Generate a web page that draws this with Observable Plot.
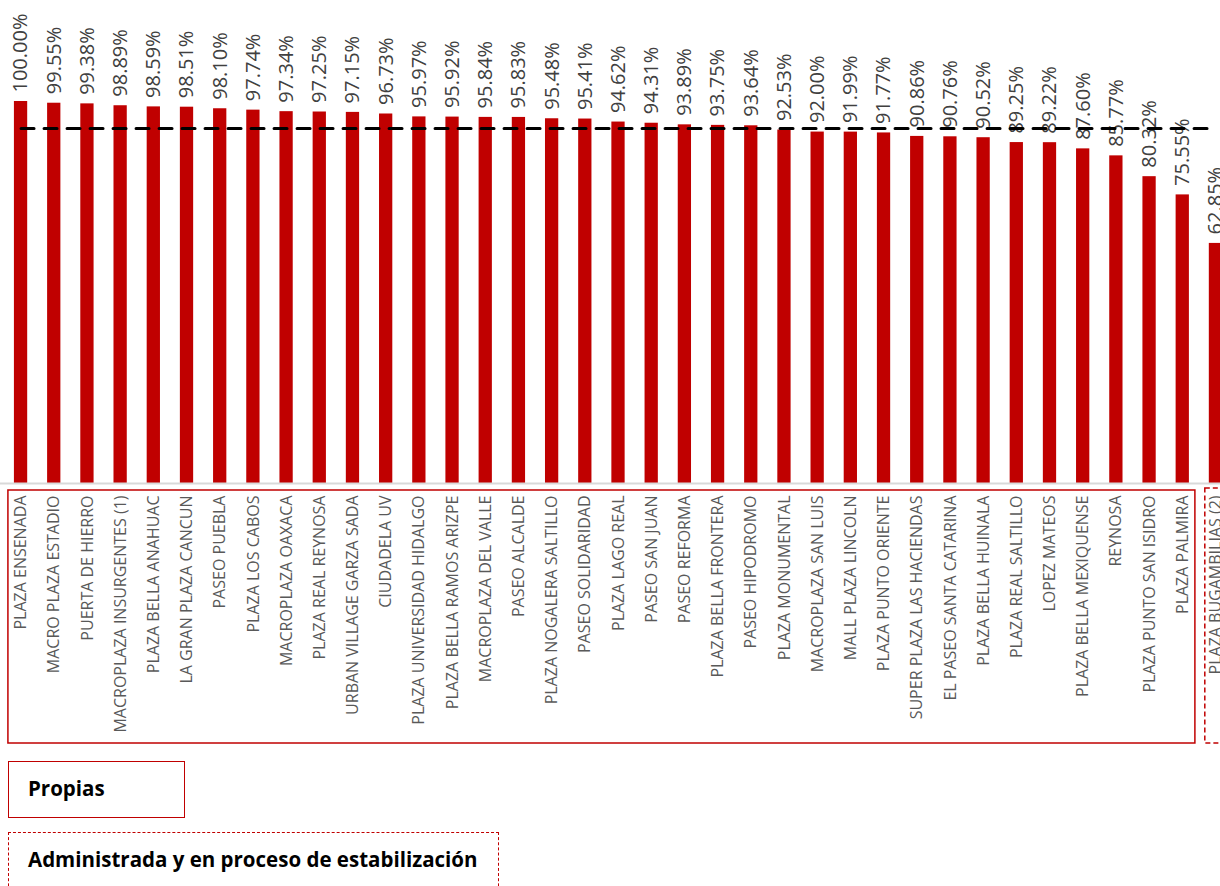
<!DOCTYPE html>
<html><head><meta charset="utf-8">
<script src="https://cdn.jsdelivr.net/npm/d3@7"></script>
<script src="https://cdn.jsdelivr.net/npm/@observablehq/plot@0.6"></script>
<style>
body{margin:0;background:#fff;overflow:hidden;font-family:"Open Sans",sans-serif;}
#chart svg{display:block}
.leg{position:absolute;left:8px;box-sizing:border-box;font-weight:bold;color:#000;font-size:20.5px;padding-left:19px;padding-top:12px;line-height:normal;}
</style></head><body>
<div id="chart"></div>
<div class="leg" style="top:761px;width:177px;height:57px;border:1.5px solid #C00000;">Propias</div>
<div class="leg" style="top:832px;width:491px;height:80px;border:1.5px dashed #C00000;">Administrada y en proceso de estabilización</div>
<script>
const plazas = ["PLAZA ENSENADA","MACRO PLAZA ESTADIO","PUERTA DE HIERRO","MACROPLAZA INSURGENTES (1)","PLAZA BELLA ANAHUAC","LA GRAN PLAZA CANCUN","PASEO PUEBLA","PLAZA LOS CABOS","MACROPLAZA OAXACA","PLAZA REAL REYNOSA","URBAN VILLAGE GARZA SADA","CIUDADELA UV","PLAZA UNIVERSIDAD HIDALGO","PLAZA BELLA RAMOS ARIZPE","MACROPLAZA DEL VALLE","PASEO ALCALDE","PLAZA NOGALERA SALTILLO","PASEO SOLIDARIDAD","PLAZA LAGO REAL","PASEO SAN JUAN","PASEO REFORMA","PLAZA BELLA FRONTERA","PASEO HIPODROMO","PLAZA MONUMENTAL","MACROPLAZA SAN LUIS","MALL PLAZA LINCOLN","PLAZA PUNTO ORIENTE","SUPER PLAZA LAS HACIENDAS","EL PASEO SANTA CATARINA","PLAZA BELLA HUINALA","PLAZA REAL SALTILLO","LOPEZ MATEOS","PLAZA BELLA MEXIQUENSE","REYNOSA","PLAZA PUNTO SAN ISIDRO","PLAZA PALMIRA","PLAZA BUGAMBILIAS (2)"];
const ocupacion = [100.00,99.55,99.38,98.89,98.59,98.51,98.10,97.74,97.34,97.25,97.15,96.73,95.97,95.92,95.84,95.83,95.48,95.41,94.62,94.31,93.89,93.75,93.64,92.53,92.00,91.99,91.77,90.86,90.76,90.52,89.25,89.22,87.60,85.77,80.32,75.55,62.85];
const grupos = ["Propias","Propias","Propias","Propias","Propias","Propias","Propias","Propias","Propias","Propias","Propias","Propias","Propias","Propias","Propias","Propias","Propias","Propias","Propias","Propias","Propias","Propias","Propias","Propias","Propias","Propias","Propias","Propias","Propias","Propias","Propias","Propias","Propias","Propias","Propias","Propias","Administrada"];
const promedio = 92.9;

const tabla = plazas.map((p, i) => ({plaza: p, valor: ocupacion[i], grupo: grupos[i]}));

const chart = Plot.plot({
  width: 1220, height: 750,
  marginTop: 101, marginBottom: 267, marginLeft: 0, marginRight: 0,
  style: {fontFamily: '"Open Sans", sans-serif', background: "#fff", overflow: "hidden"},
  x: {domain: plazas, range: [-6, 1242], padding: 0.6, round: false, label: null},
  y: {domain: [0, 100], axis: null},
  marks: [
    Plot.barY(tabla, {x: "plaza", y: "valor", fill: "#C00000"}),
    Plot.ruleY([0], {stroke: "#d9d9d9", strokeWidth: 2}),
    Plot.text(tabla, {x: "plaza", y: "valor", text: d => d.valor.toFixed(2) + "%", rotate: -90, textAnchor: "start", dy: -9, fontSize: 20, fill: "#404040"}),
    Plot.line(tabla, {x: "plaza", y: () => promedio, stroke: "#000", strokeWidth: 3, strokeDasharray: "13,10"}),
    Plot.axisX({tickRotate: -90, tickSize: 0, tickPadding: 12, fontSize: 16, color: "#595959", label: null})
  ]
});
document.getElementById("chart").appendChild(chart);

// group boxes around tick labels, positioned from the x scale
const xs = chart.scale("x");
const bw = xs.bandwidth;
const svg = d3.select(chart);
for (const [g, rows] of d3.group(tabla, d => d.grupo)) {
  const x0 = xs.apply(rows[0].plaza) - (g === "Propias" ? 6 : 4);
  const x1 = xs.apply(rows[rows.length - 1].plaza) + bw + 6;
  svg.append("rect")
    .attr("x", x0).attr("y", g === "Propias" ? 490 : 488)
    .attr("width", x1 - x0).attr("height", g === "Propias" ? 253 : 255)
    .attr("fill", "none").attr("stroke", "#C00000").attr("stroke-width", 1.5)
    .attr("stroke-dasharray", g === "Propias" ? null : "5,3");
}
</script>
</body></html>
